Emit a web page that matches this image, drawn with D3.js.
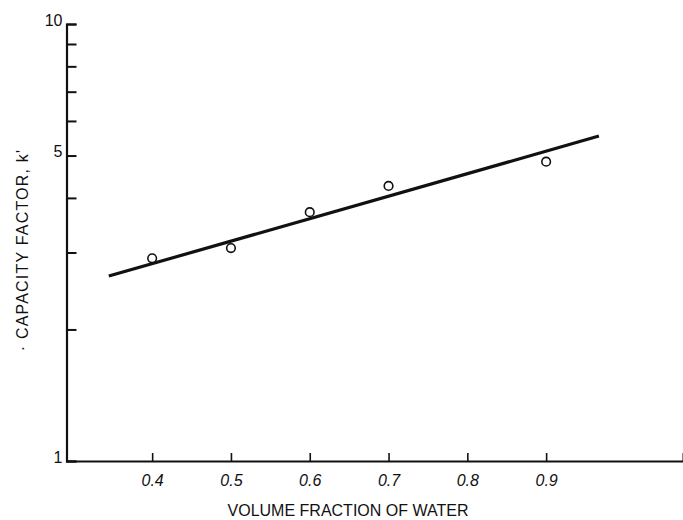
<!DOCTYPE html>
<html>
<head>
<meta charset="utf-8">
<script src="https://cdn.jsdelivr.net/npm/d3@7"></script>
<style>
  html, body { margin: 0; padding: 0; background: #fff; }
  svg { display: block; font-family: "Liberation Sans", Arial, Helvetica, sans-serif; }
</style>
</head>
<body>
<svg id="chart" width="683" height="520"></svg>
<script>
// Measured capacity factors vs. water fraction of the mobile phase
const waterFraction = [0.4, 0.5, 0.6, 0.7, 0.9];
const capacityFactor = [2.91, 3.07, 3.71, 4.26, 4.84];

// End points of the fitted regression line
const fitFraction = [0.345, 0.967];
const fitCapacity = [2.65, 5.54];

// Axis ticks
const xTicks = [0.4, 0.5, 0.6, 0.7, 0.8, 0.9];
const yTicks = [1, 2, 3, 4, 5, 6, 7, 8, 9, 10];
const yLabelled = [1, 5, 10];

const svg = d3.select("#chart");
const ink = "#111";

const x = d3.scaleLinear().domain([0.2913, 1.0737]).range([66.5, 683]);
const y = d3.scaleLog().domain([1, 10]).range([461, 24]);

// Y axis (log), ticks pointing into the plot
const yAxis = svg.append("g")
  .attr("transform", `translate(${x.range()[0]},0)`)
  .call(d3.axisLeft(y)
    .tickValues(yTicks)
    .tickSize(-10)
    .tickPadding(4)
    .tickFormat(d => yLabelled.includes(d) ? String(d) : ""));
yAxis.select(".domain").attr("stroke", ink).attr("stroke-width", 2.2);
yAxis.selectAll(".tick line").attr("stroke", ink).attr("stroke-width", 2);
yAxis.selectAll(".tick text")
  .attr("fill", ink)
  .attr("font-size", 16)
  .attr("dy", "0.08em");

// X axis, ticks pointing up into the plot
const xAxis = svg.append("g")
  .attr("transform", `translate(0,${y.range()[0]})`)
  .call(d3.axisBottom(x)
    .tickValues(xTicks)
    .tickSize(-8)
    .tickPadding(14)
    .tickFormat(d3.format(".1f")));
xAxis.select(".domain").attr("stroke", ink).attr("stroke-width", 2);
xAxis.selectAll(".tick line").attr("stroke", ink).attr("stroke-width", 1.6);
xAxis.selectAll(".tick text")
  .attr("fill", ink)
  .attr("font-size", 16)
  .attr("font-style", "italic");

// Axis titles
svg.append("text")
  .attr("x", 348)
  .attr("y", 516)
  .attr("text-anchor", "middle")
  .attr("font-size", 16)
  .attr("fill", ink)
  .text("VOLUME FRACTION OF WATER");

svg.append("text")
  .attr("transform", "translate(28,250) rotate(-90)")
  .attr("text-anchor", "middle")
  .attr("font-size", 16)
  .attr("letter-spacing", 1.2)
  .attr("fill", ink)
  .text("\u00b7 CAPACITY FACTOR, k'");

// Fitted line
const fit = fitFraction.map((f, i) => [f, fitCapacity[i]]);
svg.append("path")
  .datum(fit)
  .attr("fill", "none")
  .attr("stroke", ink)
  .attr("stroke-width", 3.2)
  .attr("d", d3.line().x(d => x(d[0])).y(d => y(d[1])));

// Data points as open circles
svg.append("g")
  .selectAll("circle")
  .data(waterFraction.map((f, i) => [f, capacityFactor[i]]))
  .join("circle")
  .attr("cx", d => x(d[0]))
  .attr("cy", d => y(d[1]))
  .attr("r", 4.3)
  .attr("fill", "#fff")
  .attr("stroke", ink)
  .attr("stroke-width", 1.6);
</script>
</body>
</html>
